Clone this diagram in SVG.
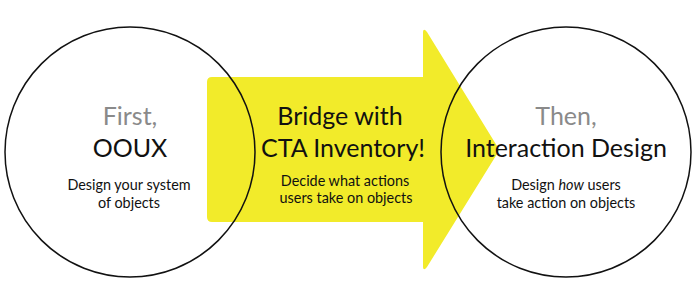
<svg xmlns="http://www.w3.org/2000/svg" width="696" height="300" viewBox="0 0 696 300">
<style>
.circle{fill:none;stroke:#111;stroke-width:1.5}
.t{font-family:Lato,"Open Sans",sans-serif;text-anchor:middle}
.gray{fill:#8a8a8a;font-size:25px}
.big{fill:#111;font-size:25px}
.small{fill:#111;font-size:14.4px}
</style>
<rect width="696" height="300" fill="#fff"/>
<g id="arrow">
<path d="M212 77 H423 V33 Q423 27 427 32 L497 146 Q500 150 497 154 L427 267 Q423 272 423 266 V222 H212 Q207 222 207 217 V82 Q207 77 212 77 Z" fill="#F2EB2A"/>
</g>
<g id="left">
<circle class="circle" cx="130" cy="152" r="125"/>
<text class="t gray" x="130" y="125">First,</text>
<text class="t big" x="130" y="157">OOUX</text>
<text class="t small" x="129" y="190">Design your system</text>
<text class="t small" x="129" y="208">of objects</text>
</g>
<g id="middle">
<text class="t big" x="340" y="125">Bridge with</text>
<text class="t big" x="343" y="157">CTA Inventory!</text>
<text class="t small" x="345" y="186">Decide what actions</text>
<text class="t small" x="346" y="203">users take on objects</text>
</g>
<g id="right">
<circle class="circle" cx="566" cy="152" r="125"/>
<text class="t gray" x="566" y="125">Then,</text>
<text class="t big" x="566" y="157">Interaction Design</text>
<text class="t small" x="566" y="190">Design <tspan font-style="italic">how</tspan> users</text>
<text class="t small" x="566" y="208">take action on objects</text>
</g>
</svg>
